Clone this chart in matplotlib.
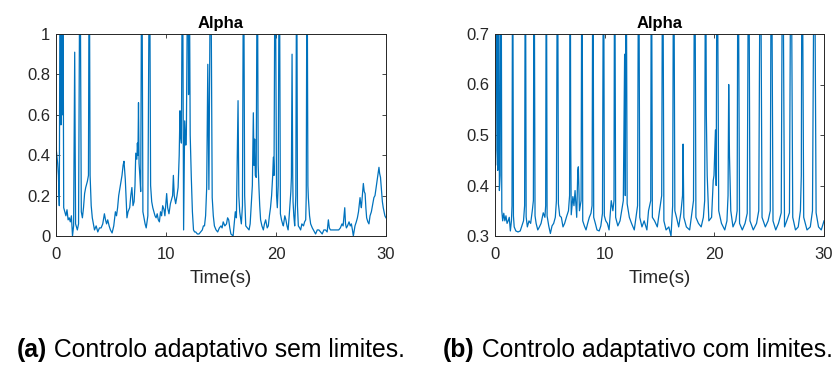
import matplotlib
matplotlib.use("Agg")
import matplotlib.pyplot as plt

plt.rcParams['font.family'] = ['Liberation Sans', 'DejaVu Sans']

# ---- data: panel (a) adaptive control without limits ----
t_a = [0.0, 0.08, 0.15, 0.22, 0.3, 0.38, 0.45, 0.5, 0.58, 0.62, 0.7, 0.8, 0.9, 1.0, 1.1, 1.2, 1.3, 1.4, 1.5, 1.6,
       1.7, 1.78, 1.94, 2.05, 2.18, 2.3, 2.4, 2.5, 2.6, 2.7, 2.85, 2.95, 3.02, 3.1, 3.2, 3.3, 3.4, 3.5, 3.65, 3.8,
       3.95, 4.1, 4.25, 4.4, 4.5, 4.6, 4.7, 4.83, 4.95, 5.1, 5.25, 5.4, 5.5, 5.6, 5.7, 5.85, 6.0, 6.1, 6.18, 6.3,
       6.38, 6.45, 6.55, 6.7, 6.8, 6.9, 7.0, 7.1, 7.18, 7.25, 7.35, 7.4, 7.45, 7.5, 7.55, 7.62, 7.7, 7.8, 7.9, 8.0,
       8.1, 8.2, 8.35, 8.5, 8.6, 8.7, 8.8, 8.9, 9.0, 9.1, 9.2, 9.3, 9.4, 9.5, 9.6, 9.7, 9.82, 9.9, 10.06, 10.15,
       10.27, 10.4, 10.5, 10.6, 10.67, 10.75, 10.88, 11.0, 11.1, 11.2, 11.27, 11.33, 11.4, 11.5, 11.6, 11.7, 11.8, 11.85, 12.0, 12.05,
       12.1, 12.2, 12.3, 12.4, 12.5, 12.6, 12.7, 12.85, 13.0, 13.15, 13.3, 13.4, 13.5, 13.6, 13.7, 13.8, 13.9, 14.06, 14.2, 14.3,
       14.4, 14.55, 14.7, 14.85, 15.0, 15.1, 15.2, 15.35, 15.5, 15.6, 15.7, 15.8, 15.9, 16.1, 16.2, 16.3, 16.4, 16.55, 16.62, 16.7,
       16.85, 16.95, 17.05, 17.15, 17.25, 17.4, 17.55, 17.65, 17.76, 17.85, 17.94, 18.0, 18.06, 18.12, 18.2, 18.3, 18.38, 18.45, 18.52, 18.6,
       18.72, 18.85, 18.95, 19.06, 19.2, 19.3, 19.4, 19.5, 19.6, 19.7, 19.76, 19.82, 19.92, 20.05, 20.12, 20.2, 20.3, 20.4, 20.5, 20.6,
       20.67, 20.8, 20.9, 21.0, 21.1, 21.2, 21.27, 21.35, 21.4, 21.46, 21.52, 21.55, 21.62, 21.7, 21.8, 21.88, 21.95, 22.03, 22.15, 22.24,
       22.35, 22.5, 22.6, 22.7, 22.75, 22.82, 22.9, 22.94, 23.05, 23.15, 23.3, 23.4, 23.5, 23.6, 23.75, 23.9, 24.05, 24.2, 24.35, 24.5,
       24.65, 24.76, 24.85, 24.95, 25.1, 25.3, 25.5, 25.7, 25.85, 26.0, 26.1, 26.25, 26.32, 26.4, 26.5, 26.64, 26.75, 26.85, 26.95, 27.03,
       27.18, 27.3, 27.4, 27.5, 27.64, 27.7, 27.76, 27.85, 27.94, 28.02, 28.1, 28.17, 28.24, 28.35, 28.45, 28.55, 28.67, 28.8, 28.9, 29.0,
       29.15, 29.25, 29.36, 29.42, 29.5, 29.6, 29.67, 29.75, 29.82, 29.9, 30.0]
alpha_a = [0.44, 0.40, 0.36, 0.30, 0.15, 1.6, 0.55, 1.6, 0.6, 1.6, 0.14, 0.12, 0.10, 0.13, 0.08, 0.09, 0.07, 0.10, 0.0, 0.05,
           0.91, 0.06, 0.03, 0.06, 1.6, 0.12, 0.09, 0.14, 0.21, 0.24, 0.27, 0.3, 1.6, 0.3, 0.15, 0.09, 0.06, 0.03, 0.05, 0.02,
           0.04, 0.04, 0.06, 0.11, 0.08, 0.06, 0.08, 0.05, 0.03, 0.015, 0.05, 0.12, 0.10, 0.14, 0.2, 0.25, 0.3, 0.35, 0.37, 0.28,
           0.18, 0.09, 0.12, 0.14, 0.2, 0.24, 0.15, 0.17, 0.25, 0.41, 0.38, 0.46, 0.40, 0.66, 0.36, 0.3, 0.22, 1.6, 0.12, 0.09,
           0.06, 0.04, 0.1, 1.6, 0.25, 0.17, 0.14, 0.12, 0.1, 0.09, 0.11, 0.08, 0.07, 0.12, 0.1, 0.15, 0.13, 0.1, 0.21, 0.14,
           0.11, 0.16, 0.18, 0.2, 0.30, 0.2, 0.16, 0.2, 0.24, 0.4, 0.62, 0.5, 0.46, 1.6, 0.03, 0.57, 0.45, 0.5, 1.6, 0.7,
           1.6, 0.5, 0.29, 0.12, 0.03, 0.02, 0.02, 0.01, 0.01, 0.02, 0.03, 0.05, 0.05, 0.1, 0.24, 0.85, 0.23, 1.6, 0.19, 0.1,
           0.05, 0.03, 0.02, 0.04, 0.05, 0.04, 0.07, 0.05, 0.06, 0.09, 0.08, 0.04, 0.01, 0.0, 0.06, 0.12, 0.09, 0.67, 0.2, 0.12,
           0.06, 0.15, 1.6, 0.2, 0.05, 0.04, 0.03, 0.06, 0.16, 0.25, 0.61, 0.35, 0.48, 0.3, 0.29, 1.6, 0.35, 0.24, 0.15, 0.08,
           0.05, 0.03, 0.06, 0.08, 0.04, 0.05, 0.1, 0.14, 0.2, 0.3, 0.39, 0.3, 1.6, 0.2, 0.14, 0.25, 1.6, 0.11, 0.08, 0.06,
           0.05, 0.1, 0.08, 0.05, 0.03, 0.1, 0.16, 0.22, 0.29, 0.90, 0.3, 0.17, 0.1, 0.05, 0.2, 1.6, 0.15, 0.05, 0.04, 0.03,
           0.06, 0.05, 0.07, 0.08, 0.2, 1.6, 0.25, 0.19, 0.1, 0.06, 0.04, 0.03, 0.02, 0.01, 0.03, 0.03, 0.02, 0.01, 0.03, 0.03,
           0.02, 0.08, 0.04, 0.03, 0.03, 0.03, 0.03, 0.03, 0.04, 0.06, 0.05, 0.14, 0.06, 0.04, 0.05, 0.07, 0.05, 0.06, 0.03, 0.0,
           0.05, 0.07, 0.09, 0.12, 0.19, 0.16, 0.14, 0.2, 0.26, 0.22, 0.21, 0.14, 0.09, 0.07, 0.06, 0.1, 0.12, 0.16, 0.19, 0.2,
           0.26, 0.3, 0.34, 0.31, 0.29, 0.22, 0.17, 0.14, 0.12, 0.1, 0.09]

# ---- data: panel (b) adaptive control with limits ----
t_b = [0.0, 0.05, 0.1, 0.18, 0.25, 0.33, 0.4, 0.47, 0.55, 0.62, 0.7, 0.8, 0.9, 1.0, 1.1, 1.2, 1.3, 1.4, 1.5, 1.55,
       1.61, 1.68, 1.75, 1.9, 2.1, 2.3, 2.45, 2.6, 2.7, 2.77, 2.84, 2.95, 3.1, 3.25, 3.4, 3.5, 3.56, 3.65, 3.75, 3.9,
       4.05, 4.2, 4.4, 4.55, 4.62, 4.68, 4.75, 4.9, 5.05, 5.2, 5.35, 5.5, 5.6, 5.7, 5.78, 5.9, 6.05, 6.2, 6.35, 6.55,
       6.7, 6.8, 6.86, 6.9, 6.95, 7.1, 7.2, 7.3, 7.45, 7.55, 7.6, 7.7, 7.85, 7.93, 8.0, 8.15, 8.3, 8.45, 8.6, 8.75,
       8.85, 8.93, 9.0, 9.15, 9.3, 9.5, 9.65, 9.8, 9.9, 9.97, 10.1, 10.25, 10.4, 10.6, 10.75, 10.85, 10.91, 11.0, 11.2, 11.4,
       11.7, 11.82, 11.88, 11.95, 12.05, 12.25, 12.45, 12.7, 12.9, 13.0, 13.1, 13.2, 13.4, 13.6, 13.85, 14.0, 14.2, 14.26, 14.35, 14.55,
       14.8, 15.0, 15.2, 15.29, 15.4, 15.6, 15.85, 16.05, 16.2, 16.29, 16.4, 16.55, 16.75, 16.95, 17.1, 17.15, 17.22, 17.45, 17.75, 17.95,
       18.1, 18.21, 18.32, 18.55, 18.8, 19.0, 19.12, 19.2, 19.27, 19.35, 19.5, 19.75, 19.9, 19.97, 20.1, 20.17, 20.25, 20.4, 20.65, 20.95,
       21.15, 21.25, 21.31, 21.38, 21.5, 21.7, 21.95, 22.08, 22.16, 22.3, 22.55, 22.8, 23.0, 23.13, 23.25, 23.55, 23.85, 24.05, 24.2, 24.35,
       24.65, 24.9, 25.1, 25.2, 25.35, 25.6, 25.85, 26.1, 26.23, 26.4, 26.6, 26.85, 26.99, 27.15, 27.4, 27.65, 27.85, 27.93, 28.0, 28.15,
       28.45, 28.75, 28.95, 29.12, 29.28, 29.5, 29.75, 30.0]
alpha_b = [0.48, 0.44, 0.47, 1.0, 0.43, 1.0, 0.39, 0.42, 1.0, 0.35, 0.33, 0.345, 0.33, 0.34, 0.325, 0.33, 0.337, 0.31, 0.33, 0.36,
           1.0, 0.34, 0.318, 0.31, 0.308, 0.31, 0.32, 0.33, 0.36, 1.0, 0.338, 0.318, 0.33, 0.325, 0.35, 0.37, 1.0, 0.34, 0.325, 0.312,
           0.318, 0.325, 0.346, 0.337, 0.36, 1.0, 0.34, 0.32, 0.305, 0.32, 0.325, 0.337, 0.37, 1.0, 0.364, 0.34, 0.337, 0.318, 0.325, 0.34,
           0.35, 0.38, 1.0, 0.5, 0.342, 0.378, 0.36, 0.39, 0.337, 0.43, 0.437, 0.35, 0.37, 1.0, 0.33, 0.32, 0.312, 0.325, 0.337, 0.345,
           0.36, 1.0, 0.337, 0.325, 0.312, 0.31, 0.32, 0.345, 1.0, 0.34, 0.33, 0.325, 0.312, 0.37, 0.35, 0.37, 1.0, 0.337, 0.32, 0.33,
           0.37, 0.66, 0.38, 1.0, 0.364, 0.337, 0.325, 0.312, 0.345, 0.36, 1.0, 0.337, 0.318, 0.33, 0.312, 0.35, 0.37, 1.0, 0.337, 0.33,
           0.318, 0.35, 0.38, 1.0, 0.33, 0.312, 0.318, 0.3, 0.36, 1.0, 0.35, 0.337, 0.318, 0.346, 0.38, 0.482, 0.337, 0.318, 0.312, 0.345,
           0.37, 1.0, 0.337, 0.325, 0.318, 0.337, 0.37, 1.0, 0.54, 0.42, 0.33, 0.337, 0.41, 0.42, 0.51, 0.4, 1.0, 0.35, 0.325, 0.312,
           0.33, 0.38, 0.60, 0.46, 0.35, 0.318, 0.33, 0.35, 1.0, 0.325, 0.312, 0.325, 0.345, 1.0, 0.33, 0.312, 0.325, 0.35, 1.0, 0.337,
           0.318, 0.33, 0.35, 1.0, 0.33, 0.312, 0.325, 0.346, 1.0, 0.318, 0.33, 0.346, 1.0, 0.337, 0.312, 0.318, 0.35, 0.42, 1.0, 0.337,
           0.312, 0.318, 0.35, 1.0, 0.346, 0.318, 0.312, 0.33]

xticks = [0, 10, 20, 30]
yticks_a = [0, 0.2, 0.4, 0.6, 0.8, 1]
ytick_labels_a = ["0", "0.2", "0.4", "0.6", "0.8", "1"]
yticks_b = [0.3, 0.4, 0.5, 0.6, 0.7]
ytick_labels_b = ["0.3", "0.4", "0.5", "0.6", "0.7"]
captions = [("(a)", " Controlo adaptativo sem limites."), ("(b)", " Controlo adaptativo com limites.")]

W, H = 834, 365
fig = plt.figure(figsize=(W / 100, H / 100), dpi=100)

line_color = "#0072BD"
axis_color = "#262626"

def make_axes(px_left, px_right, px_top, px_bottom):
    return fig.add_axes([px_left / W, 1 - px_bottom / H, (px_right - px_left) / W, (px_bottom - px_top) / H])

panels = [
    (make_axes(56, 386, 34, 236), t_a, alpha_a, (0, 1), yticks_a, ytick_labels_a),
    (make_axes(495, 824, 34, 236), t_b, alpha_b, (0.3, 0.7), yticks_b, ytick_labels_b),
]

for ax, t, a, ylim, yt, ytl in panels:
    ax.plot(t, a, color=line_color, linewidth=0.9)
    ax.set_xlim(0, 30)
    ax.set_ylim(*ylim)
    ax.set_xticks(xticks)
    ax.set_xticklabels([str(v) for v in xticks])
    ax.set_yticks(yt)
    ax.set_yticklabels(ytl)
    ax.tick_params(direction="in", top=True, right=True, length=3, width=0.6,
                   colors=axis_color, labelsize=12)
    ax.tick_params(axis="x", pad=8)
    ax.tick_params(axis="y", pad=4)
    for s in ax.spines.values():
        s.set_color(axis_color)
        s.set_linewidth(0.7)
    ax.set_title("Alpha", fontsize=12, fontweight="bold", color="black", pad=4.5)
    ax.set_xlabel("Time(s)", fontsize=13.4, color=axis_color, labelpad=6)

cap_x = [17, 443]
cap_size = 17.8
for (bold, rest), x in zip(captions, cap_x):
    tb = fig.text(x / W, 1 - 350 / H, bold, fontsize=cap_size, fontweight="bold", va="center", ha="left")
    plt.annotate(rest, xy=(1, 0.5), xycoords=tb, va="center", ha="left", fontsize=cap_size,
                 annotation_clip=False)

fig.savefig("out.png", dpi=100)
